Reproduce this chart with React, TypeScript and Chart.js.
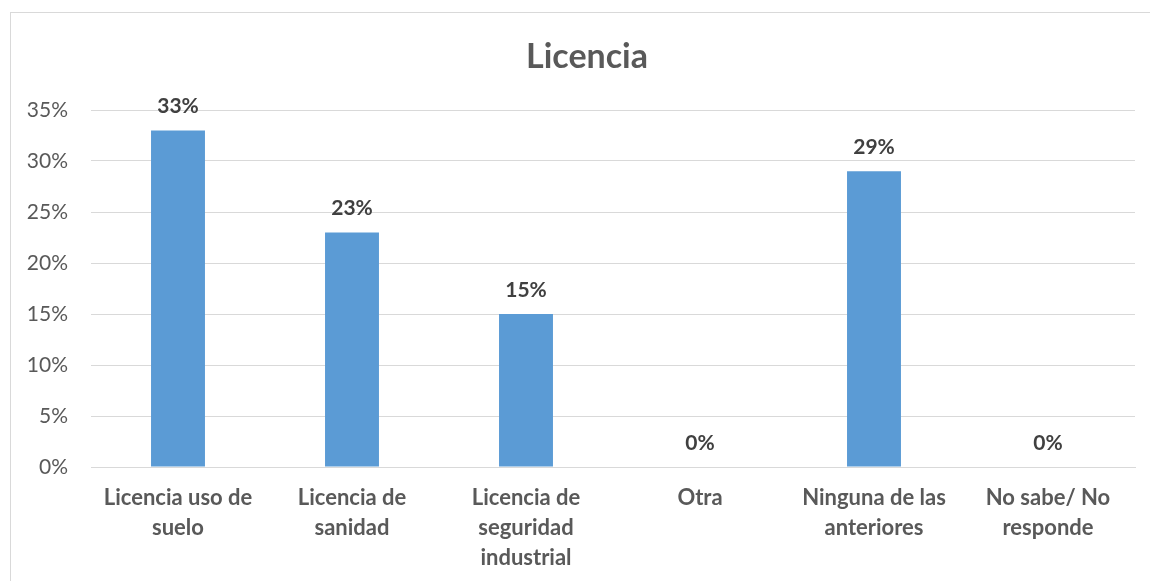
import React, { useEffect, useRef } from "react";
import { Chart, registerables } from "chart.js";

Chart.register(...registerables);

const categories: string[][] = [
  ["Licencia uso de", "suelo"],
  ["Licencia de", "sanidad"],
  ["Licencia de", "seguridad", "industrial"],
  ["Otra"],
  ["Ninguna de las", "anteriores"],
  ["No sabe/ No", "responde"],
];
const values: number[] = [0.33, 0.23, 0.15, 0, 0.29, 0];
const yTicks: number[] = [0, 0.05, 0.1, 0.15, 0.2, 0.25, 0.3, 0.35];
const titleText = "Licencia";

const FONT = "Lato, 'Open Sans', sans-serif";

const dataLabelPlugin = {
  id: "dataLabels",
  afterDatasetsDraw(chart: any) {
    const ctx = chart.ctx;
    const meta = chart.getDatasetMeta(0);
    ctx.save();
    ctx.font = `bold 21px ${FONT}`;
    ctx.fillStyle = "#404040";
    ctx.textAlign = "center";
    ctx.textBaseline = "middle";
    meta.data.forEach((bar: any, i: number) => {
      const v = values[i];
      ctx.fillText(`${Math.round(v * 100)}%`, bar.x, bar.y - 24);
    });
    ctx.restore();
  },
};

const titlePlugin = {
  id: "frameTitle",
  afterDraw(chart: any) {
    const ctx = chart.ctx;
    ctx.save();
    ctx.font = `bold 34px ${FONT}`;
    ctx.fillStyle = "#595959";
    ctx.textAlign = "center";
    ctx.textBaseline = "middle";
    ctx.fillText(titleText, (chart.width + 24) / 2, 57);
    ctx.restore();
  },
};

export default function App() {
  const ref = useRef<HTMLCanvasElement>(null);
  useEffect(() => {
    document.body.style.margin = "0";
    const chart = new Chart(ref.current!, {
      type: "bar",
      data: {
        labels: categories,
        datasets: [
          {
            data: values,
            backgroundColor: "#5B9BD5",
            borderWidth: 0,
            barPercentage: 0.31,
            categoryPercentage: 1,
          },
        ],
      },
      options: {
        responsive: false,
        animation: false,
        events: [],
        layout: { padding: { top: 110, left: 11, right: 15, bottom: 0 } },
        plugins: {
          legend: { display: false },
          tooltip: { enabled: false },
          title: { display: false },
        },
        scales: {
          x: {
            grid: { display: false, drawTicks: false },
            border: { color: "#d9d9d9", width: 1 },
            ticks: {
              color: "#595959",
              font: { family: FONT, size: 22, weight: "bold", lineHeight: 1.36 },
              padding: 16,
              maxRotation: 0,
              autoSkip: false,
            },
            afterFit: (s: any) => {
              s.height = 114;
            },
          },
          y: {
            min: 0,
            max: 0.35,
            afterBuildTicks: (s: any) => {
              s.ticks = yTicks.map((v) => ({ value: v }));
            },
            grid: { color: "#d9d9d9", lineWidth: 1, drawTicks: false },
            border: { display: false },
            ticks: {
              color: "#595959",
              font: { family: FONT, size: 21 },
              padding: 23,
              callback: (v: any) => `${Math.round(Number(v) * 100)}%`,
            },
            afterFit: (s: any) => {
              s.width = 80;
            },
          },
        },
      },
      plugins: [dataLabelPlugin, titlePlugin],
    });
    return () => chart.destroy();
  }, []);
  return (
    <div style={{ position: "relative", width: 1150, height: 581, overflow: "hidden", background: "#fff" }}>
      <div
        style={{
          position: "absolute",
          left: 10,
          top: 12,
          width: 1150,
          height: 600,
          border: "1px solid #d9d9d9",
          borderRight: "none",
          borderBottom: "none",
          boxSizing: "border-box",
        }}
      />
      <canvas ref={ref} width={1150} height={581} style={{ position: "absolute", left: 0, top: 0, display: "block" }} />
    </div>
  );
}
